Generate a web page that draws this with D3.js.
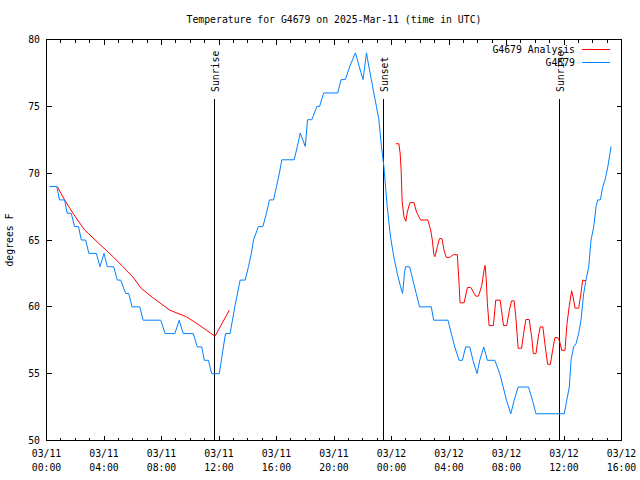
<!DOCTYPE html>
<html><head><meta charset="utf-8">
<script src="https://cdn.jsdelivr.net/npm/d3@7"></script>
<style>body{margin:0;background:#fff}svg{display:block}text{font-family:"DejaVu Sans Mono",monospace;font-size:9.8px;fill:#000}</style>
</head><body>
<script>
// Hours since 2025-03-11 00:00 UTC
const stationHours = [0.2,0.72,0.9,1.26,1.44,1.72,1.95,2.23,2.42,2.72,2.95,3.47,3.72,4.0,4.23,4.67,4.93,5.16,5.51,5.72,5.95,6.49,6.72,7.95,8.25,8.93,9.23,9.51,10.21,10.49,10.8,10.98,11.26,11.49,12.02,12.45,12.77,13.1,13.47,13.82,14.05,14.25,14.4,14.74,15.05,15.3,15.51,15.79,16.0,16.2,16.37,17.23,17.45,17.65,18.0,18.16,18.46,18.81,19.0,19.28,20.26,20.49,20.79,21.1,21.49,21.75,22.02,22.26,22.42,22.6,22.77,22.95,23.12,23.3,23.47,23.7,23.93,24.16,24.4,24.63,24.77,24.9,24.98,25.26,25.49,25.72,25.95,26.77,26.93,27.93,28.16,28.4,28.7,28.93,29.16,29.44,29.67,29.95,30.14,30.42,30.67,31.19,31.53,31.77,32.0,32.3,32.53,32.81,33.53,33.81,34.05,36.02,36.19,36.37,36.49,36.67,36.84,37.02,37.18,37.37,37.53,37.72,37.88,38.07,38.23,38.35,38.53,38.7,38.86,39.05,39.28];
const stationTemps = [69,69,68,68,67,67,66,66,65,65,64,64,63,64,63,63,62,62,61,61,60,60,59,59,58,58,59,58,58,57,57,56,56,55,55,58,58,60,62,62,63,64,65,66,66,67,68,68,69,70,71,71,72,73,72,74,74,75,75,76,76,77,77,78,79,78,77,79,78,77,76,75,74,72,70.5,67.5,65.25,63.75,62.5,61.5,61,62.5,63,63,62,61,60,60,59,59,58,57,56,56,57,57,56,55,56,57,56,56,55,54,53,52,53,54,54,53,52,52,53,54,56,57,57.25,58,59,61,62,63,65,66,67.5,68,68,69,69.5,70.5,72];
const analysisHours = [0.75,1.26,1.84,2.65,3.93,4.63,5.32,6.0,6.6,7.38,8.58,9.75,10.67,11.72,12.72,null,24.3,24.51,24.6,24.67,24.74,24.86,25.0,25.1,25.28,25.56,25.74,26.02,26.53,26.72,26.84,26.95,27.02,27.19,27.33,27.51,27.65,27.81,28.05,28.3,28.58,28.7,28.77,29.05,29.28,29.51,29.86,30.05,30.28,30.44,30.51,30.58,30.67,30.79,31.09,31.25,31.56,31.79,32.02,32.19,32.35,32.53,32.65,32.81,33.05,33.19,33.35,33.58,33.77,33.86,34.05,34.21,34.35,34.53,34.7,34.86,35.05,35.21,35.37,35.56,35.7,35.84,36.07,36.21,36.37,36.53,36.63,36.77,37.02,37.18,37.3,37.53];
const analysisTemps = [69,68,67,65.75,64.45,63.75,63.0,62.25,61.37,60.7,59.75,59.25,58.6,57.8,59.75,null,72.2,72.2,71.5,70.25,67.9,66.75,66.4,67.1,67.8,67.8,67.1,66.5,66.5,65.75,65.0,63.9,63.75,64.5,65.1,65.1,64.25,63.7,63.7,63.9,63.9,61.75,60.3,60.3,61.45,61.45,60.8,60.8,61.6,62.75,63.1,62.25,60.25,58.6,58.6,60.5,60.5,58.6,58.6,59.7,60.45,60.45,59.2,56.9,56.9,58.0,59.05,59.05,57.6,56.5,56.5,57.75,58.5,58.5,57.0,55.7,55.7,56.75,57.7,57.7,57.4,56.75,56.75,58.75,60.1,61.2,60.75,59.9,59.9,61.0,62.0,61.95];
const eventNames = ["Sunrise","Sunset","Sunrise"];
const eventHours = [11.62,23.44,35.62];
const yTicks = [50,55,60,65,70,75,80];
const seriesNames = ["G4679 Analysis","G4679"];
const seriesColors = ["#ff0000","#0080ff"];
const title = "Temperature for G4679 on 2025-Mar-11 (time in UTC)";
const yTitle = "degrees F";

const W=640,H=480, L=46.5, R=621.5, T=39.5, B=440.5;
const t0 = Date.UTC(2025,2,11,0,0);
const toDate = h => new Date(t0 + h*3600000);
const x = d3.scaleUtc().domain([toDate(0), toDate(40)]).range([L,R]);
const y = d3.scaleLinear().domain([50,80]).range([B,T]);

const svg = d3.select("body").append("svg").attr("width",W).attr("height",H);

svg.append("text").attr("x",(L+R)/2).attr("y",23).attr("text-anchor","middle").text(title);
svg.append("text").attr("transform","translate(13,240) rotate(-90)").attr("text-anchor","middle").text(yTitle);

const g = svg.append("g").attr("shape-rendering","crispEdges");
// ticks
const majors = d3.utcHour.every(4).range(toDate(0), toDate(40.01));
const minors = d3.utcHour.every(1).range(toDate(0), toDate(40.01));
minors.forEach(d=>{
  const major = d.getUTCHours()%4===0;
  const len = major?5:3;
  g.append("line").attr("x1",x(d)).attr("x2",x(d)).attr("y1",B).attr("y2",B-len).attr("stroke","#000");
  g.append("line").attr("x1",x(d)).attr("x2",x(d)).attr("y1",T).attr("y2",T+len).attr("stroke","#000");
});
const fmtD = d3.utcFormat("%m/%d"), fmtT = d3.utcFormat("%H:%M");
majors.forEach(d=>{
  svg.append("text").attr("x",x(d)).attr("y",457).attr("text-anchor","middle").text(fmtD(d));
  svg.append("text").attr("x",x(d)).attr("y",471).attr("text-anchor","middle").text(fmtT(d));
});
yTicks.forEach(v=>{
  g.append("line").attr("x1",L).attr("x2",L+5).attr("y1",y(v)).attr("y2",y(v)).attr("stroke","#000");
  g.append("line").attr("x1",R).attr("x2",R-5).attr("y1",y(v)).attr("y2",y(v)).attr("stroke","#000");
  svg.append("text").attr("x",40).attr("y",y(v)+3.5).attr("text-anchor","end").text(v);
});

// data lines
const line = d3.line().defined(d=>d[1]!=null).x(d=>x(toDate(d[0]))).y(d=>y(d[1]));
const aData = analysisHours.map((h,i)=>[h,analysisTemps[i]]);
const sData = stationHours.map((h,i)=>[h,stationTemps[i]]);
svg.append("path").datum(aData).attr("d",line).attr("fill","none").attr("stroke",seriesColors[0]).attr("stroke-width",1);
svg.append("path").datum(sData).attr("d",line).attr("fill","none").attr("stroke",seriesColors[1]).attr("stroke-width",1);

// events
eventHours.forEach((h,i)=>{
  const xe = Math.round(x(toDate(h)))+0.5;
  g.append("line").attr("x1",xe).attr("x2",xe).attr("y1",99).attr("y2",B).attr("stroke","#000");
  svg.append("text").attr("transform",`translate(${xe+4.5},92) rotate(-90)`).attr("text-anchor","start").text(eventNames[i]);
});

// frame
g.append("rect").attr("x",L).attr("y",T).attr("width",R-L).attr("height",B-T).attr("fill","none").attr("stroke","#000");

// legend
seriesNames.forEach((n,i)=>{
  const ly = 49.5 + i*13;
  svg.append("text").attr("x",575).attr("y",ly+3.5).attr("text-anchor","end").text(n);
  g.append("line").attr("x1",582).attr("x2",610).attr("y1",ly).attr("y2",ly).attr("stroke",seriesColors[i]);
});
</script>
</body></html>
